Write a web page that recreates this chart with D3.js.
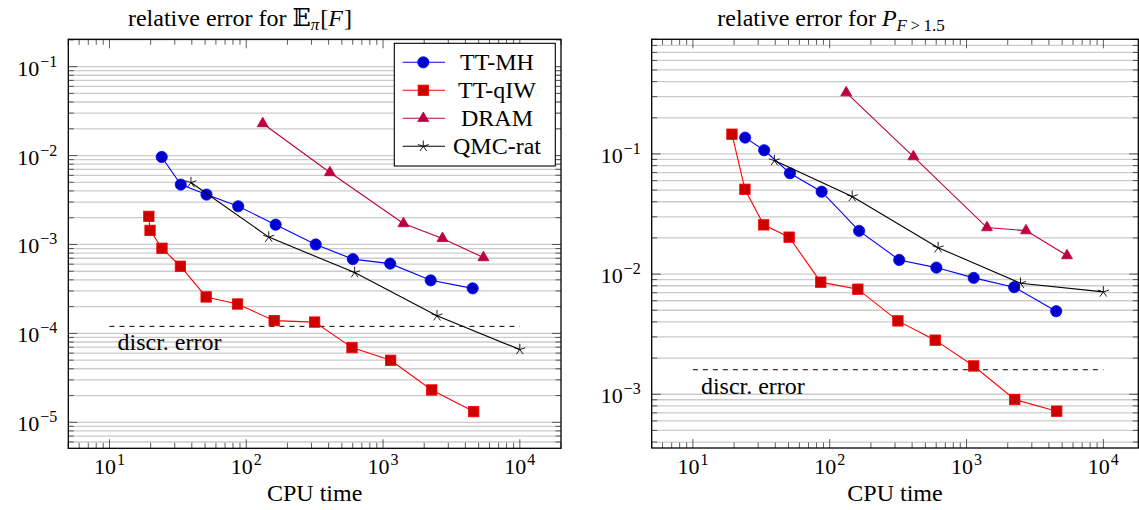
<!DOCTYPE html>
<html>
<head>
<meta charset="utf-8">
<script src="https://cdn.jsdelivr.net/npm/d3@7"></script>
<style>
  body { margin: 0; background: #fff; }
  svg { display: block; font-family: "Liberation Serif", serif; }
</style>
</head>
<body>
<svg id="chart" width="1139" height="510"></svg>
<script>
// data (CPU time vs relative error)
var cpuMH   = [24.1, 33.2, 51.2, 87.3, 164, 322, 602, 1128, 2230, 4520];
var meanMH  = [9.64e-3, 4.72e-3, 3.64e-3, 2.69e-3, 1.67e-3, 1.00e-3, 6.84e-4, 6.09e-4, 3.95e-4, 3.21e-4];
var probMH  = [0.1368, 0.1074, 0.0691, 0.0485, 0.0229, 0.01312, 0.01133, 0.0093, 0.00778, 0.00491];

var cpuIWmean = [19.4, 19.8, 24.2, 33.0, 50.9, 86.3, 160, 316, 593, 1137, 2270, 4600];
var meanIW    = [2.07e-3, 1.44e-3, 9.06e-4, 5.69e-4, 2.57e-4, 2.14e-4, 1.39e-4, 1.34e-4, 6.92e-5, 4.98e-5, 2.31e-5, 1.32e-5];
var cpuIWprob = [19.3, 24.0, 32.9, 50.5, 86.0, 160.5, 315, 590, 1128, 2250, 4560];
var probIW    = [0.146, 0.0508, 0.0257, 0.0203, 0.00857, 0.00749, 0.00408, 0.00282, 0.00172, 0.000904, 0.000723];

var cpuDRAM  = [132, 409, 1410, 2720, 5420];
var meanDRAM = [2.29e-2, 6.44e-3, 1.72e-3, 1.17e-3, 7.13e-4];
var probDRAM = [0.3236, 0.095, 0.0244, 0.0230, 0.01426];

var cpuQMC  = [39.4, 146, 620, 2480, 10000];
var meanQMC = [4.97e-3, 1.21e-3, 4.83e-4, 1.58e-4, 6.58e-5];
var probQMC = [0.0880, 0.0442, 0.0166, 0.00839, 0.00711];

var discrRange = [10, 1e4];
var discrMean = 1.2e-4;
var discrProb = 1.6e-3;

var seriesNames = ["TT-MH", "TT-qIW", "DRAM", "QMC-rat"];
var xTickExp = [1, 2, 3, 4];

var svg = d3.select("#chart");

// marker styles
var styles = {
  "TT-MH":   { line: "#0000ff", fill: "#0000cc", mark: "circle" },
  "TT-qIW":  { line: "#ff0000", fill: "#cc0000", mark: "square" },
  "DRAM":    { line: "#bf0040", fill: "#bf0040", mark: "triangle" },
  "QMC-rat": { line: "#000000", fill: "none",    mark: "star" }
};

function starPath(r) {
  var p = "";
  for (var k = 0; k < 5; k++) {
    var a = -Math.PI / 2 + k * 2 * Math.PI / 5;
    p += "M0,0L" + (r * Math.cos(a)).toFixed(2) + "," + (r * Math.sin(a)).toFixed(2);
  }
  return p;
}

function drawMark(g, name, cx, cy) {
  var s = styles[name];
  if (s.mark == "circle") {
    g.append("circle").attr("cx", cx).attr("cy", cy).attr("r", 5.6)
      .attr("fill", s.fill).attr("stroke", s.line).attr("stroke-width", 0.8);
  } else if (s.mark == "square") {
    g.append("rect").attr("x", cx - 5.2).attr("y", cy - 5.2).attr("width", 10.4).attr("height", 10.4)
      .attr("fill", s.fill).attr("stroke", s.line).attr("stroke-width", 0.8);
  } else if (s.mark == "triangle") {
    g.append("path").attr("d", d3.symbol().type(d3.symbolTriangle).size(52)())
      .attr("transform", "translate(" + cx + "," + cy + ")")
      .attr("fill", s.fill).attr("stroke", s.line).attr("stroke-width", 0.8);
  } else {
    g.append("path").attr("d", starPath(5.8))
      .attr("transform", "translate(" + cx + "," + cy + ")")
      .attr("fill", "none").attr("stroke", "#000").attr("stroke-width", 0.9);
  }
}

function powLabel(sel, exp, size) {
  sel.append("tspan").text("10");
  sel.append("tspan").attr("dy", -9).attr("dx", 1).attr("font-size", size)
    .text(exp < 0 ? "\u2212" + (-exp) : exp);
}

function panel(cfg) {
  var x = d3.scaleLog().domain(cfg.xDomain).range([cfg.left, cfg.right]);
  var y = d3.scaleLog().domain(cfg.yDomain).range([cfg.bottom, cfg.top]);
  var g = svg.append("g");

  // horizontal grid (major + minor)
  var yt = y.ticks();
  g.append("g").selectAll("line").data(yt).enter().append("line")
    .attr("x1", cfg.left).attr("x2", cfg.right)
    .attr("y1", function (d) { return y(d); }).attr("y2", function (d) { return y(d); })
    .attr("stroke", "#cbcbcb").attr("stroke-width", 1.3);

  // tick marks on all four sides
  var isMajor = function (d) { return Math.abs(Math.log10(d) - Math.round(Math.log10(d))) < 1e-6; };
  var ticks = g.append("g").attr("stroke", "#333").attr("stroke-width", 0.8);
  x.ticks().forEach(function (d) {
    var len = isMajor(d) ? 9 : 5.5;
    ticks.append("line").attr("x1", x(d)).attr("x2", x(d)).attr("y1", cfg.bottom).attr("y2", cfg.bottom - len);
    ticks.append("line").attr("x1", x(d)).attr("x2", x(d)).attr("y1", cfg.top).attr("y2", cfg.top + len);
  });
  yt.forEach(function (d) {
    var len = isMajor(d) ? 9 : 5.5;
    ticks.append("line").attr("y1", y(d)).attr("y2", y(d)).attr("x1", cfg.left).attr("x2", cfg.left + len);
    ticks.append("line").attr("y1", y(d)).attr("y2", y(d)).attr("x1", cfg.right).attr("x2", cfg.right - len);
  });

  // tick labels
  xTickExp.forEach(function (e) {
    var t = g.append("text").attr("x", x(Math.pow(10, e))).attr("y", cfg.bottom + 26)
      .attr("text-anchor", "middle").attr("font-size", 22);
    powLabel(t, e, 16);
  });
  yt.filter(isMajor).forEach(function (d) {
    var t = g.append("text").attr("x", cfg.left - 11).attr("y", y(d) + 9)
      .attr("text-anchor", "end").attr("font-size", 22);
    powLabel(t, Math.round(Math.log10(d)), 16);
  });

  // discretisation error line
  g.append("line")
    .attr("x1", x(discrRange[0])).attr("x2", x(discrRange[1]))
    .attr("y1", y(cfg.discr)).attr("y2", y(cfg.discr))
    .attr("stroke", "#000").attr("stroke-width", 1).attr("stroke-dasharray", "5,5");
  g.append("text").attr("x", x(discrRange[0]) + 8).attr("y", y(cfg.discr) + 24)
    .attr("font-size", 24).text("discr. error");

  // series
  var line = d3.line().x(function (d) { return x(d[0]); }).y(function (d) { return y(d[1]); });
  cfg.series.forEach(function (s) {
    var pts = d3.zip(s.x, s.y);
    g.append("path").datum(pts).attr("d", line)
      .attr("fill", "none").attr("stroke", styles[s.name].line).attr("stroke-width", 1.1);
    var mg = g.append("g");
    pts.forEach(function (p) { drawMark(mg, s.name, x(p[0]), y(p[1])); });
  });

  // frame
  g.append("rect").attr("x", cfg.left).attr("y", cfg.top)
    .attr("width", cfg.right - cfg.left).attr("height", cfg.bottom - cfg.top)
    .attr("fill", "none").attr("stroke", "#000").attr("stroke-width", 1.3);

  // axis label + title
  g.append("text").attr("x", (cfg.left + cfg.right) / 2).attr("y", 501)
    .attr("text-anchor", "middle").attr("font-size", 24).text("CPU time");
  cfg.title(g.append("text").attr("x", cfg.titleX).attr("y", 26)
    .attr("text-anchor", "middle").attr("font-size", 24));

  return g;
}

var left = panel({
  left: 68.3, right: 561, top: 39.3, bottom: 448.3,
  xDomain: [5, 2e4], yDomain: [5.1e-6, 0.203],
  discr: discrMean, titleX: 240,
  title: function (t) {
    t.append("tspan").text("relative error for ");
    t.append("tspan").attr("font-family", "DejaVu Serif, DejaVu Sans").text("\uD835\uDD3C");
    t.append("tspan").attr("font-size", 17).attr("font-style", "italic").attr("dy", 4).text("\u03C0");
    t.append("tspan").attr("dy", -4).attr("dx", 1).text("[");
    t.append("tspan").attr("font-style", "italic").text("F");
    t.append("tspan").attr("dx", 1).text("]");
  },
  series: [
    { name: "TT-MH", x: cpuMH, y: meanMH },
    { name: "TT-qIW", x: cpuIWmean, y: meanIW },
    { name: "DRAM", x: cpuDRAM, y: meanDRAM },
    { name: "QMC-rat", x: cpuQMC, y: meanQMC }
  ]
});

panel({
  left: 651.7, right: 1138.3, top: 39.3, bottom: 448,
  xDomain: [5, 1.8e4], yDomain: [3.57e-4, 0.9],
  discr: discrProb, titleX: 831,
  title: function (t) {
    t.append("tspan").text("relative error for ");
    t.append("tspan").attr("font-style", "italic").text("P");
    t.append("tspan").attr("font-size", 17).attr("font-style", "italic").attr("dy", 5).text("F");
    t.append("tspan").attr("font-size", 17).text("\u2009>\u20091.5");
  },
  series: [
    { name: "TT-MH", x: cpuMH, y: probMH },
    { name: "TT-qIW", x: cpuIWprob, y: probIW },
    { name: "DRAM", x: cpuDRAM, y: probDRAM },
    { name: "QMC-rat", x: cpuQMC, y: probQMC }
  ]
});

// legend (left panel)
var lg = left.append("g");
lg.append("rect").attr("x", 394.3).attr("y", 43.3).attr("width", 161).attr("height", 122.7)
  .attr("fill", "#fff").attr("stroke", "#000").attr("stroke-width", 1.1);
seriesNames.forEach(function (name, i) {
  var cy = 62.3 + i * 28;
  lg.append("line").attr("x1", 402.7).attr("x2", 445).attr("y1", cy).attr("y2", cy)
    .attr("stroke", styles[name].line).attr("stroke-width", 1.1);
  drawMark(lg, name, 423.3, cy);
  lg.append("text").attr("x", 497).attr("y", cy + 8).attr("text-anchor", "middle")
    .attr("font-size", 24).text(name);
});
</script>
</body>
</html>
